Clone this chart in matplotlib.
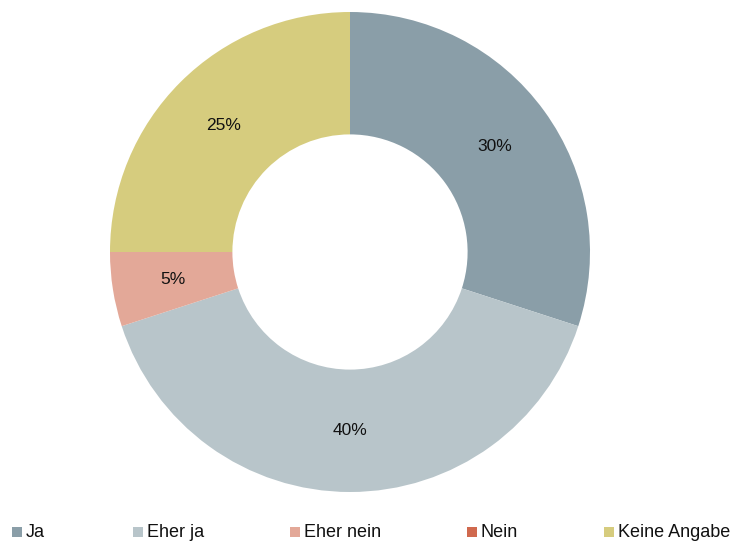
import matplotlib
matplotlib.use("Agg")
import matplotlib.pyplot as plt
from matplotlib.patches import Rectangle

plt.rcParams['font.family'] = ['Liberation Sans', 'DejaVu Sans']

categories = ["Ja", "Eher ja", "Eher nein", "Nein", "Keine Angabe"]
shares = [30, 40, 5, 0, 25]
colors = ["#8a9ea8", "#b8c5ca", "#e3a898", "#d0694e", "#d6cc7e"]

fig = plt.figure(figsize=(7.33, 5.41), dpi=100)
ax = fig.add_axes([110 / 733, 1 - 492 / 541, 480 / 733, 480 / 541])

wedges, texts, autotexts = ax.pie(
    shares,
    colors=colors,
    startangle=90,
    counterclock=False,
    radius=1,
    wedgeprops=dict(width=0.51, linewidth=0),
    autopct=lambda p: f"{p:.0f}%" if p > 0 else "",
    pctdistance=0.745,
    textprops=dict(fontsize=12.5, color="#111111"),
    frame=True,
)
ax.set_xlim(-1, 1)
ax.set_ylim(-1, 1)
ax.axis("off")

# legend row along the bottom edge
legend_x = [12, 133, 290, 467, 604]
for x, name, c in zip(legend_x, categories, colors):
    fig.patches.append(Rectangle((x / 733, 1 - 537 / 541), 10 / 733, 10 / 541,
                                 transform=fig.transFigure, facecolor=c,
                                 edgecolor="none"))
    fig.text((x + 14) / 733, 1 - 532.5 / 541, name, fontsize=13,
             color="#111111", va="center", ha="left")

fig.savefig("out.png", dpi=100)
